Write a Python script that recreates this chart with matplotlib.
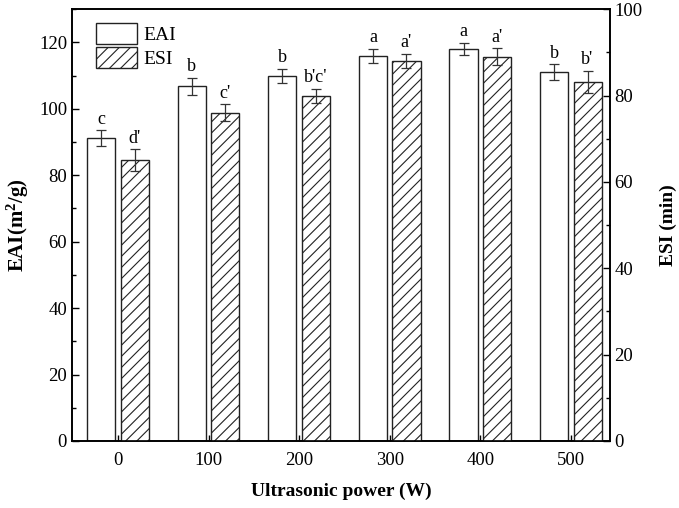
import numpy as np
import matplotlib.pyplot as plt
from matplotlib.ticker import MultipleLocator

plt.rcParams["font.family"] = ["Liberation Serif", "DejaVu Serif"]
plt.rcParams["mathtext.fontset"] = "custom"
plt.rcParams["mathtext.rm"] = "Liberation Serif"
plt.rcParams["mathtext.bf"] = "Liberation Serif:bold"
plt.rcParams["hatch.color"] = "#666666"
plt.rcParams["hatch.linewidth"] = 0.8

power = [0, 100, 200, 300, 400, 500]
eai = [91.1, 106.8, 110.0, 115.9, 118.0, 111.0]
eai_err = [2.4, 2.5, 2.1, 2.1, 1.9, 2.4]
eai_letters = ["c", "b", "b", "a", "a", "b"]
esi = [65.0, 76.0, 79.9, 88.0, 89.0, 83.1]
esi_err = [2.5, 2.0, 1.7, 1.7, 1.9, 2.6]
esi_letters = ["d'", "c'", "b'c'", "a'", "a'", "b'"]

x = np.array(power, dtype=float)
w = 31
off = 18.5

fig, ax = plt.subplots(figsize=(6.79, 5.08), dpi=100)
ax2 = ax.twinx()

ekw = dict(ecolor="#333333", elinewidth=0.9, capthick=0.9)
b1 = ax.bar(x - off, eai, w, color="white", edgecolor="#222222", lw=1.0,
            yerr=eai_err, capsize=3.5, error_kw=ekw, label="EAI", zorder=2)
b2 = ax2.bar(x + off, esi, w, color="white", edgecolor="#222222", lw=1.0, hatch="///",
             yerr=esi_err, capsize=3.5, error_kw=ekw, label="ESI", zorder=2)

for xi, v, e, t in zip(x - off, eai, eai_err, eai_letters):
    ax.text(xi, v + e + 0.8, t, ha="center", va="bottom", fontsize=13)
for xi, v, e, t in zip(x + off, esi, esi_err, esi_letters):
    ax2.text(xi, v + e + 0.6, t, ha="center", va="bottom", fontsize=13)

ax.set_xlim(-51, 543)
ax.set_ylim(0, 130)
ax2.set_ylim(0, 100)
ax.set_xticks(power)
ax.yaxis.set_major_locator(MultipleLocator(20))
ax.yaxis.set_minor_locator(MultipleLocator(10))
ax2.yaxis.set_major_locator(MultipleLocator(20))
ax2.yaxis.set_minor_locator(MultipleLocator(10))

for a in (ax, ax2):
    a.tick_params(which="both", direction="in", labelsize=13.5, width=1.0)
    a.tick_params(which="major", length=5)
    a.tick_params(which="minor", length=3)
    for s in a.spines.values():
        s.set_linewidth(1.2)
ax.tick_params(axis="x", length=4, pad=8)

ax.set_xlabel("Ultrasonic power (W)", fontsize=14, fontweight="bold", labelpad=10)
ax.set_ylabel(r"EAI(m$\mathbf{^2}$/g)", fontsize=15, fontweight="bold", labelpad=6)
ax2.set_ylabel("ESI (min)", fontsize=14, fontweight="bold", labelpad=12)

ax.legend([b1, b2], ["EAI", "ESI"], loc="upper left", frameon=False, fontsize=14,
          handlelength=2.1, handleheight=1.3, labelspacing=0.15, handletextpad=0.3,
          borderaxespad=0.3, bbox_to_anchor=(0.02, 1.0))

fig.subplots_adjust(left=0.106, right=0.898, top=0.982, bottom=0.132)
fig.savefig("out.png", dpi=100)
